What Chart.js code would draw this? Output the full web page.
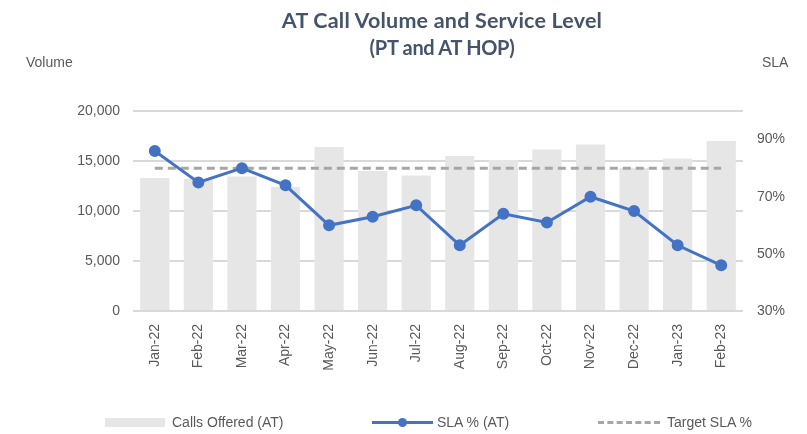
<!DOCTYPE html>
<html>
<head>
<meta charset="utf-8">
<style>
  * { margin: 0; padding: 0; box-sizing: border-box; }
  body { width: 807px; height: 434px; background: #fff; position: relative; overflow: hidden;
         font-family: "Liberation Sans", Arial, sans-serif; color: #595959; }
  #chartBox { position: absolute; left: 0; top: 0; width: 807px; height: 434px; }
  .title { position: absolute; left: 0; width: 884px; text-align: center;
           font-family: Lato, sans-serif; font-weight: 700; color: #44546a; }
  .axisName { position: absolute; top: 54px; font-size: 14px; }
  .legend { position: absolute; top: 414px; font-size: 14px; line-height: 16px; white-space: nowrap; }
  .sw { position: absolute; }
</style>
</head>
<body>
<div id="chartBox"><canvas id="myChart"></canvas></div>

<div class="title" style="top:7px;font-size:21.5px;letter-spacing:0.2px">AT Call Volume and Service Level</div>
<div class="title" style="top:35px;font-size:20px;letter-spacing:-0.3px">(PT and AT HOP)</div>
<div class="axisName" style="left:26px">Volume</div>
<div class="axisName" style="left:762px">SLA</div>

<div class="sw" style="left:105px;top:418px;width:60px;height:9px;background:#e6e6e6"></div>
<div class="legend" style="left:172px">Calls Offered (AT)</div>
<div class="sw" style="left:372px;top:421px;width:61px;height:3px;background:#4472c4"></div>
<div class="sw" style="left:398px;top:418px;width:9px;height:9px;border-radius:50%;background:#4472c4"></div>
<div class="legend" style="left:437px">SLA % (AT)</div>
<div class="sw" style="left:598px;top:421px;width:62px;height:0;border-top:3px dashed #a6a6a6"></div>
<div class="legend" style="left:667px">Target SLA %</div>

<script src="https://cdn.jsdelivr.net/npm/chart.js/dist/chart.umd.min.js"></script>
<script>
// setup
const months = ['Jan-22', 'Feb-22', 'Mar-22', 'Apr-22', 'May-22', 'Jun-22', 'Jul-22',
                'Aug-22', 'Sep-22', 'Oct-22', 'Nov-22', 'Dec-22', 'Jan-23', 'Feb-23'];
const callsOffered = [13300, 13200, 13450, 12400, 16400, 14000, 13550,
                      15500, 15100, 16150, 16650, 14300, 15250, 17000];
const slaPct = [86, 75, 80, 74, 60, 63, 67, 53, 64, 61, 70, 65, 53, 46];
const targetSla = [80, 80, 80, 80, 80, 80, 80, 80, 80, 80, 80, 80, 80, 80];
const volumeTicks = [0, 5000, 10000, 15000, 20000];
const slaTicks = [30, 50, 70, 90];

const tickFont = { family: '"Liberation Sans", Arial, sans-serif', size: 14 };

const data = {
  labels: months,
  datasets: [
    {
      type: 'line',
      label: 'SLA % (AT)',
      data: slaPct,
      yAxisID: 'ySla',
      borderColor: '#4472c4',
      backgroundColor: '#4472c4',
      borderWidth: 3,
      pointRadius: 4.5,
      pointHoverRadius: 4.5,
      tension: 0,
      order: 0
    },
    {
      type: 'line',
      label: 'Target SLA %',
      data: targetSla,
      yAxisID: 'ySla',
      borderColor: '#a6a6a6',
      borderWidth: 3,
      borderDash: [8, 5],
      pointRadius: 0,
      order: 1
    },
    {
      type: 'bar',
      label: 'Calls Offered (AT)',
      data: callsOffered,
      yAxisID: 'yVol',
      backgroundColor: '#e6e6e6',
      barPercentage: 0.67,
      categoryPercentage: 1,
      order: 2
    }
  ]
};

const config = {
  type: 'bar',
  data,
  options: {
    responsive: false,
    animation: false,
    layout: { padding: { top: 111, left: 0, right: 0, bottom: 0 } },
    plugins: {
      legend: { display: false },
      tooltip: { enabled: false },
      title: { display: false }
    },
    scales: {
      x: {
        grid: { display: false },
        border: { display: false },
        ticks: { color: '#595959', font: tickFont, minRotation: 90, maxRotation: 90, padding: 5 },
        afterFit: (scale) => { scale.height = 123; }
      },
      yVol: {
        position: 'left',
        min: 0,
        max: 20000,
        afterBuildTicks: (axis) => { axis.ticks = volumeTicks.map(v => ({ value: v })); },
        grid: { color: '#d9d9d9', lineWidth: 2, drawTicks: false },
        border: { display: false },
        ticks: {
          color: '#595959', font: tickFont, padding: 13,
          callback: (v) => v.toLocaleString('en-US')
        },
        afterFit: (scale) => { scale.width = 133; }
      },
      ySla: {
        position: 'right',
        min: 30,
        max: 100,
        afterBuildTicks: (axis) => { axis.ticks = slaTicks.map(v => ({ value: v })); },
        grid: { display: false, drawTicks: false },
        border: { display: false },
        ticks: { color: '#595959', font: tickFont, padding: 14, callback: (v) => v + '%' },
        afterFit: (scale) => { scale.width = 64; }
      }
    }
  }
};

const canvas = document.getElementById('myChart');
canvas.width = 807;
canvas.height = 434;
const myChart = new Chart(canvas, config);
</script>
</body>
</html>
